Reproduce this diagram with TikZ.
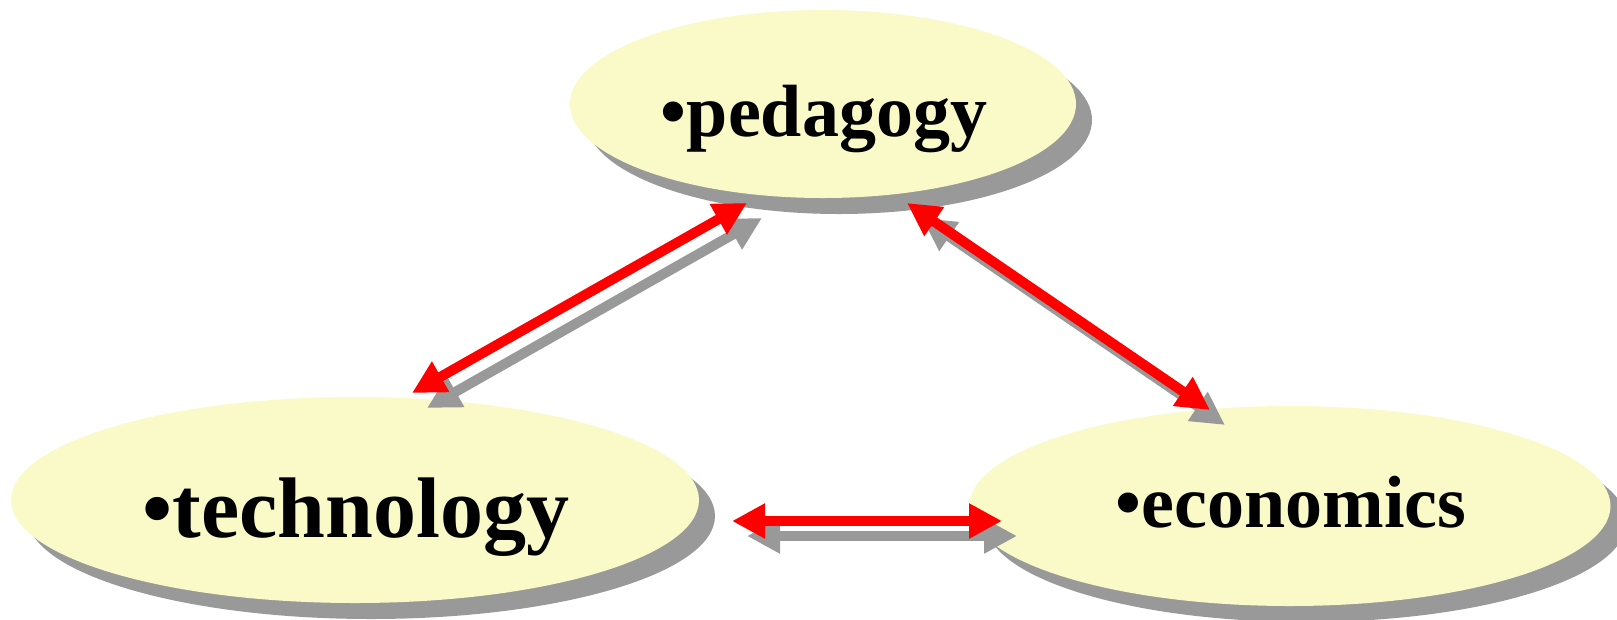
\documentclass[tikz,border=0pt]{standalone}
\usepackage{fontspec}
\setmainfont{Liberation Serif}
\usetikzlibrary{shapes.geometric,shadows,arrows.meta}
\definecolor{bubblefill}{RGB}{250,250,200}
\definecolor{shadowgray}{RGB}{153,153,153}
\begin{document}
\begin{tikzpicture}[x=1pt, y=-1pt,
	bubble/.style={ellipse, fill=bubblefill, inner sep=0pt, drop shadow={shadow xshift=16pt, shadow yshift=-16pt, fill=shadowgray, opacity=1}},
	word/.style={anchor=base, inner sep=0pt, font=\bfseries\fontsize{#1}{#1}\selectfont},
	link/.style={draw=red, line width=10pt, {Triangle[length=33pt,width=33pt]}-{Triangle[length=33pt,width=33pt]}},
	linkshadow/.style={link, draw=shadowgray, transform canvas={xshift=15pt, yshift=-15pt}}]
			\useasboundingbox (0,0) rectangle (1617,619);
			\node[bubble, minimum width=506pt, minimum height=188pt] (p) at (823,104){};
			\node[bubble, minimum width=688pt, minimum height=206pt] (t) at (355,500){};
			\node[bubble, minimum width=641pt, minimum height=200pt] (e) at (1290,506){};
			\node[word=74] (pw) at (824,136){•pedagogy};
			\node[word=86] (tw) at (356,537){•technology};
			\node[word=74] (ew) at (1291,527){•economics};
			
			\coordinate (pt) at (747,203);
			\coordinate (tp) at (412,393);
			\coordinate (pe) at (907,203);
			\coordinate (ep) at (1210,410);
			\coordinate (te) at (732,521);
			\coordinate (et) at (1002,521);
			
			\draw[linkshadow] (pt) -- (tp);
			\draw[linkshadow] (pe) -- (ep);
			\draw[linkshadow] (te) -- (et);
			\draw[link] (pt) -- (tp);
			\draw[link] (pe) -- (ep);
			\draw[link] (te) -- (et);
			\end{tikzpicture}
\end{document}
